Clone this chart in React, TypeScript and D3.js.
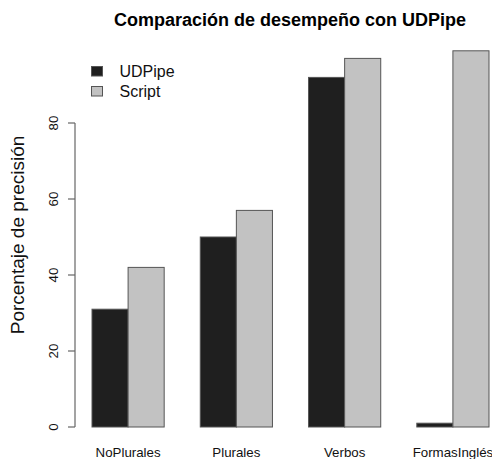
import React from "react";
import * as d3 from "d3";

const categories = ["NoPlurales", "Plurales", "Verbos", "FormasInglés"];
const seriesNames = ["UDPipe", "Script"];
const udpipeValues = [31, 50, 92, 1];
const scriptValues = [42, 57, 97, 99];
const yTicks = [0, 20, 40, 60, 80];
const colors = ["#1f1f1f", "#c2c2c2"];

const W = 492;
const H = 459;

export default function App() {
  const series = [udpipeValues, scriptValues];
  const x = d3.scaleLinear().domain([1, 12]).range([92, 489]);
  const y = d3.scaleLinear().domain([0, 80]).range([427, 123]);
  const font = "Liberation Sans, Arial, Helvetica, sans-serif";

  const bars: React.ReactElement[] = [];
  categories.forEach((c, i) => {
    series.forEach((vals, j) => {
      const left = 1 + 3 * i + j;
      const x0 = x(left);
      const x1 = x(left + 1);
      const y0 = y(vals[i]);
      bars.push(
        <rect
          key={`${i}-${j}`}
          x={x0}
          y={y0}
          width={x1 - x0}
          height={y(0) - y0}
          fill={colors[j]}
          stroke="#555"
          strokeWidth={1}
        />
      );
    });
  });

  return (
    <svg
      width={W}
      height={H}
      style={{ position: "absolute", left: 0, top: 0, background: "#fff" }}
      fontFamily={font}
    >
      <rect x={0} y={0} width={W} height={H} fill="#fff" />
      <text
        x={290}
        y={26}
        textAnchor="middle"
        fontWeight="bold"
        fontSize={18}
        fill="#000"
      >
        Comparación de desempeño con UDPipe
      </text>

      {bars}

      {/* y axis */}
      <line x1={75} x2={75} y1={y(0)} y2={y(80)} stroke="#666" strokeWidth={1.2} />
      {yTicks.map((t) => (
        <g key={t}>
          <line x1={68} x2={75} y1={y(t)} y2={y(t)} stroke="#666" strokeWidth={1.2} />
          <text
            transform={`translate(57.5,${y(t)}) rotate(-90)`}
            textAnchor="middle"
            fontSize={13.3}
            fill="#111"
          >
            {t}
          </text>
        </g>
      ))}

      <text
        transform={`translate(24,235) rotate(-90)`}
        textAnchor="middle"
        fontSize={19}
        fill="#111"
      >
        Porcentaje de precisión
      </text>

      {categories.map((c, i) => (
        <text
          key={c}
          x={x(2 + 3 * i)}
          y={457}
          textAnchor="middle"
          fontSize={13.3}
          fill="#111"
        >
          {c}
        </text>
      ))}

      {/* legend */}
      {seriesNames.map((s, j) => (
        <g key={s}>
          <rect
            x={91.5}
            y={66.5 + 20 * j}
            width={11}
            height={9.5}
            fill={colors[j]}
            stroke="#555"
            strokeWidth={1}
          />
          <text x={119.5} y={77 + 20 * j} fontSize={16} fill="#111">
            {s}
          </text>
        </g>
      ))}
    </svg>
  );
}
